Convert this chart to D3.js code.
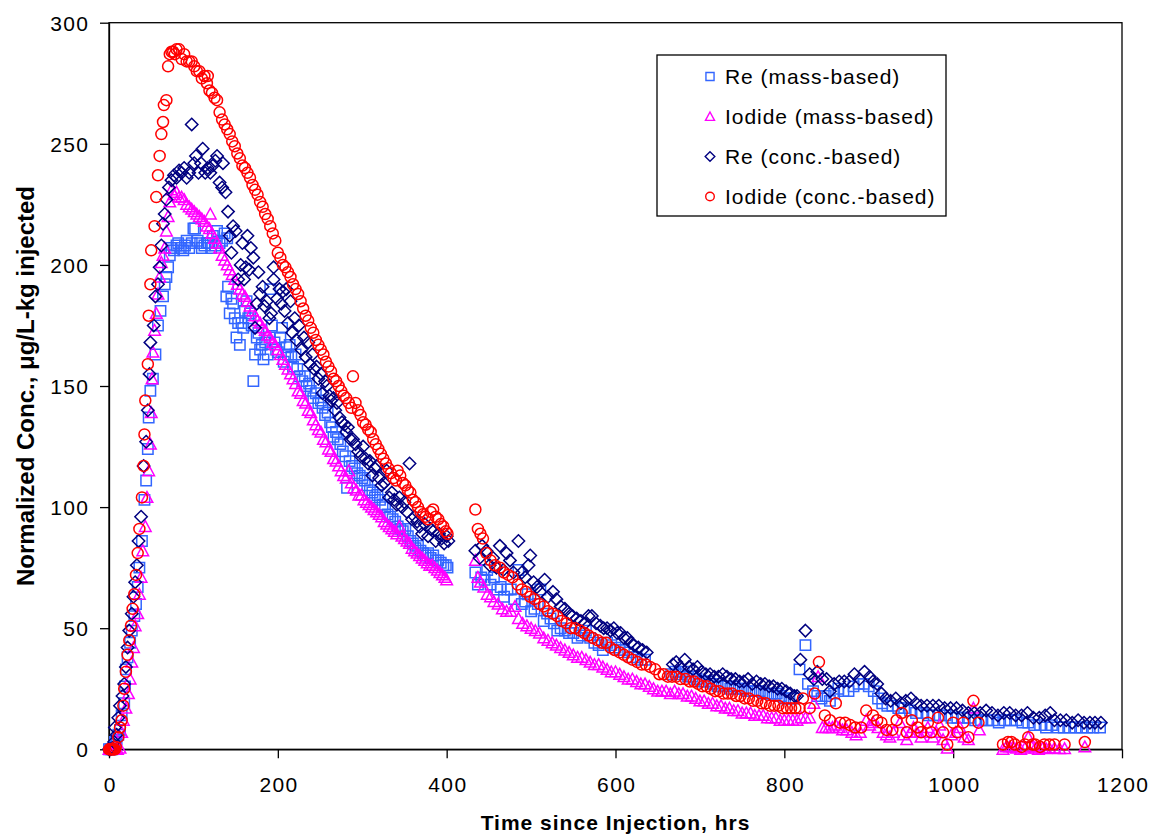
<!DOCTYPE html>
<html>
<head>
<meta charset="utf-8">
<script src="https://cdn.jsdelivr.net/npm/d3@7"></script>
<style>
  html, body { margin: 0; padding: 0; background: #fff; overflow: hidden; }
  svg { display: block; }
  text { font-family: "Liberation Sans", Arial, sans-serif; }
</style>
</head>
<body>
<div id="chart"></div>
<script>
// [hours, normalized conc]
const reMass = [[0,0],[2,0],[4,0],[6,1],[7,3],[9,4],[11,6],[13,8],[15,14],[18,19],[19,26],[20,33],[22,38],[25,44],[27,49],[30,55],[32,60],[34,67],[36,75],[39,86],[42,103],[44,111],[46,124],[47,137],[49,148],[52,153],[55,163],[58,175],[61,181],[64,187],[66,192],[68,195],[70,199],[72,204],[74,207],[77,206],[80,208],[82,209],[85,207],[88,206],[90,208],[92,210],[95,207],[98,209],[100,215],[102,215],[105,210],[108,209],[110,207],[113,208],[116,209],[118,209],[121,207],[123,212],[126,208],[128,214],[131,209],[134,210],[137,213],[140,211],[139,187],[141,191],[143,180],[145,186],[147,184],[149,178],[151,170],[153,176],[155,167],[157,176],[159,174],[161,181],[163,185],[165,178],[167,180],[169,175],[171,152],[173,163],[175,170],[177,172],[179,165],[181,167],[183,161],[185,168],[188,163],[190,170],[191,190],[193,175],[196,168],[198,165],[200,164],[203,170],[205,174],[207,160],[210,166],[212,163],[214,167],[216,162],[218,158],[221,163],[223,157],[226,154],[229,152],[232,154],[234,150],[237,151],[239,148],[242,145],[245,147],[248,143],[251,144],[253,141],[256,138],[259,139],[262,135],[264,133],[266,129],[269,131],[271,128],[274,126],[277,123],[280,121],[282,108],[285,119],[288,117],[291,116],[294,114],[297,113],[300,112],[303,111],[306,109],[309,107],[312,106],[315,104],[318,105],[321,103],[324,101],[327,100],[330,97],[333,96],[336,95],[339,94],[342,92],[345,91],[348,90],[351,91],[354,88],[357,86],[360,85],[363,83],[366,84],[369,82],[372,81],[375,80],[378,81],[381,79],[384,80],[387,78],[390,78],[393,77],[396,76],[399,76],[401,75],
  [434,73],[437,68],[441,71],[445,70],[448,74],[452,68],[456,71],[460,66],[464,67],[468,63],[472,66],[476,66],[480,62],[485,74],[489,60],[493,61],[496,64],[500,57],[504,58],[508,60],[511,66],[515,53],[519,56],[523,54],[527,52],[531,49],[535,50],[540,49],[545,48],[550,48],[555,46],[560,47],[565,49],[570,46],[575,44],[580,43],[585,41],[590,44],[595,43],[600,42],[605,41],[610,41],[615,40],[620,38],[625,38],[630,37],[635,37],
  [666,31],[671,32],[676,31],[681,32],[686,30],[691,30],[696,29],[701,28],[706,28],[711,28],[716,27],[721,26],[726,26],[731,26],[736,25],[741,26],[746,25],[751,25],[756,24],[761,24],[766,24],[771,24],[776,23],[781,23],[786,23],[791,23],[796,22],[801,21],[806,21],[811,21],[818,33],[825,43],[828,27],[834,24],[839,22],[844,21],[849,22],[854,20],[859,23],[864,25],[870,24],[876,24],[882,26],[888,27],[894,27],[900,26],[906,24],[911,21],[916,19],[922,18],[928,18],[935,17],[942,17],[949,16],[956,15],[963,15],[970,14],[977,14],[984,14],[991,14],[998,13],[1005,13],[1012,13],[1019,13],[1026,12],[1033,12],[1040,12],[1047,12],[1054,11],[1061,12],[1068,12],[1075,12],[1082,11],[1089,11],[1096,10],[1103,10],[1110,9],[1117,10],[1124,9],[1131,9],[1138,9],[1145,9],[1152,9],[1159,9],[1166,9],[1174,9]];

const iodideMass = [[0,0],[2,0],[4,0],[6,0],[8,0],[10,0],[13,0.5],[15,7],[17,12],[20,17],[23,23],[25,29],[27,36],[29,42],[31,51],[34,56],[36,64],[38,71],[40,82],[43,92],[45,104],[47,115],[49,126],[50,139],[51,153],[52,164],[54,173],[56,180],[58,188],[60,195],[62,201],[64,204],[66,207],[68,214],[70,220],[72,226],
  [74,231],[77,229],[80,230],[83,228],[86,228],[89,227],[92,225],[95,224],[98,223],[101,222],[104,221],[107,220],[110,219],[113,218],[116,216],[119,215],[120,221],[122,213],[125,211],[128,209],[131,207],[134,204],[137,202],[140,200],[143,198],[146,196],[149,194],[152,192],[155,190],[158,188],[161,187],[164,185],[167,183],[170,181],[173,179],[176,177],[179,176],[182,174],[185,173],[188,171],[191,170],[194,168],[197,167],[200,165],[203,163],[206,161],[209,159],[212,157],[215,155],[218,153],[221,151],[224,148],[227,147],[230,144],[233,143],[236,140],[239,139],[242,136],[245,134],[248,132],[251,131],[254,128],[257,127],[260,124],[263,123],[266,120],[269,119],[272,117],[275,115],[278,113],[281,112],[284,115],[287,110],[290,108],[293,107],[296,105],[299,105],[302,103],[305,102],[308,101],[311,100],[314,99],[317,98],[320,97],[323,96],[326,94],[329,93],[332,92],[335,91],[338,90],[341,89],[344,92],[347,88],[350,87],[353,86],[356,85],[359,83],[362,82],[365,81],[368,80],[371,79],[374,78],[377,77],[380,76],[383,76],[386,75],[389,74],[392,73],[395,72],[398,71],[400,70],
  [434,78],[437,71],[440,69],[444,67],[448,64],[452,63],[456,61],[461,60],[466,58],[471,57],[476,57],[481,59],[485,54],[490,52],[495,51],[500,50],[505,49],[510,48],[515,46],[520,45],[525,44],[530,43],[535,42],[540,41],[545,40],[550,39],[555,38],[560,38],[565,37],[570,36],[575,35],[580,35],[585,34],[590,33],[595,32],[600,32],[605,31],[610,30],[615,29],[620,29],[625,28],[630,27],[635,27],[640,26],[645,25],[650,24],[655,24],[660,24],[665,23],[670,24],[675,23],[680,23],[685,22],[690,22],[695,21],[700,20],[705,20],[710,19],[715,19],[720,18],[725,18],[730,17],[735,17],[740,16],[745,16],[750,15],[755,15],[760,15],[765,14],[770,14],[775,14],[780,13],[785,13],[790,13],[795,12],[800,12],[805,12],[810,12],[815,12],[820,13],[825,13],[830,13],[835,19],[840,30],
  [845,9],[849,9],[853,9],[857,9],[861,10],[865,9],[869,8],[874,8],[880,7],[885,6],[890,7],[897,12],[901,10],[905,11],[911,9],[917,7],[921,6],[925,5],[929,7],[937,11],[941,6],[945,4],[949,7],[953,9],[957,7],[962,5],[966,7],[970,9],[976,5],[980,7],[984,10],[988,4],[993,0.5],[998,6],[1003,7],[1008,9],[1013,5],[1018,4],[1024,17],[1031,8],
  [1059,0],[1063,1],[1067,1],[1071,1],[1075,0.5],[1080,0],[1085,0.5],[1089,5],[1093,1],[1097,0.5],[1101,0],[1106,0.5],[1110,0.3],[1114,0.5],[1120,0.5],[1126,0.3],[1132,0.3],[1156,1]];

const reConc = [[0,0],[2,0],[4,0.5],[6,3],[7,9],[9,6],[11,13],[13,18],[16,22],[18,27],[20,34],[22,42],[24,49],[27,56],[29,63],[31,69],[33,76],[35,86],[38,96],[41,117],[44,127],[46,140],[48,155],[49,168],[53,175],[55,187],[58,192],[60,199],[62,208],[64,217],[66,221],[68,227],[71,232],[74,235],[77,237],[80,236],[83,239],[86,238],[89,240],[92,236],[95,238],[98,258],[101,242],[103,245],[106,238],[109,242],[111,248],[114,238],[117,240],[120,238],[123,241],[126,243],[128,245],[131,234],[134,232],[135,242],[138,230],[141,222],[143,212],[145,205],[147,216],[150,214],[153,194],[156,200],[158,209],[160,194],[162,199],[164,212],[166,198],[168,207],[171,203],[173,174],[175,184],[177,197],[179,188],[182,191],[184,183],[187,185],[190,178],[192,180],[195,199],[195,194],[199,186],[202,190],[204,184],[206,189],[208,181],[210,190],[212,176],[215,185],[217,172],[220,178],[222,169],[225,175],[228,165],[231,170],[233,162],[236,168],[238,159],[241,163],[243,157],[246,158],[248,153],[251,155],[253,147],[256,152],[258,150],[261,146],[263,144],[266,145],[268,140],[270,143],[273,137],[276,135],[279,134],[281,131],[283,133],[286,128],[289,128],[292,126],[295,123],[298,121],[301,125],[304,120],[307,118],[309,119],[312,113],[315,116],[317,117],[320,112],[323,109],[326,110],[329,115],[332,104],[335,106],[338,103],[341,101],[344,104],[347,100],[350,102],[353,98],[356,118],[359,95],[362,96],[365,94],[368,92],[371,89],[374,93],[378,88],[381,91],[384,90],[387,86],[391,89],[394,87],[397,85],[400,88],[402,86],
  [434,82],[439,79],[442,84],[447,82],[451,76],[455,79],[459,75],[463,84],[467,74],[471,81],[475,78],[479,73],[485,86],[489,73],[493,71],[497,76],[499,80],[503,69],[507,67],[511,65],[516,70],[520,63],[526,65],[530,62],[535,59],[540,58],[545,56],[549,55],[554,54],[559,53],[564,52],[568,55],[572,55],[577,52],[582,51],[586,50],[590,50],[594,49],[598,50],[602,48],[606,48],[610,46],[614,46],[618,44],[622,43],[627,42],[632,41],[637,40],
  [668,35],[672,36],[677,34],[682,37],[687,34],[692,33],[697,34],[702,32],[707,31],[712,31],[717,30],[722,30],[727,31],[732,30],[737,29],[742,29],[747,28],[752,28],[757,29],[762,27],[767,28],[772,27],[777,27],[782,26],[787,26],[792,25],[797,25],[802,24],[807,23],[812,22],[815,22],[819,37],[825,49],[830,31],[835,29],[839,32],[845,29],[850,29],[854,24],[859,27],[865,28],[871,28],[877,28],[883,31],[889,29],[895,32],[901,30],[905,28],[910,27],[915,23],[920,21],[926,20],[932,21],[938,19],[944,20],[950,21],[956,19],[962,18],[969,18],[976,18],[983,18],[990,17],[997,17],[1004,17],[1011,16],[1018,15],[1025,15],[1032,15],[1039,16],[1046,15],[1053,14],[1060,15],[1067,15],[1074,14],[1081,14],[1088,15],[1095,13],[1102,13],[1109,14],[1115,15],[1120,12],[1127,12],[1134,12],[1141,11],[1148,12],[1155,11],[1162,11],[1168,11],[1175,11]];

const iodideConc = [[0,0],[1,0],[2,0],[3,0],[4,0],[5,0],[6,0],[7,0],[8,1],[11,5],[13,9],[15,12],[17,18],[18,25],[20,32],[22,39],[24,45],[26,51],[28,58],[30,64],[32,72],[34,81],[36,91],[39,104],[41,117],[42,130],[43,144],[46,159],[47,179],[49,192],[50,206],[54,216],[56,228],[58,237],[60,245],[62,254],[64,259],[65,266],[68,268],[70,282],[72,287],
  [74,288],[76,288],[78,287],[80,289],[83,289],[86,285],[89,287],[92,284],[95,284],[98,284],[101,282],[104,280],[107,280],[110,277],[113,278],[116,275],[117,278],[119,272],[122,271],[125,269],[128,268],[131,263],[134,260],[137,258],[140,256],[143,254],[146,251],[149,249],[152,246],[155,244],[158,241],[161,240],[164,238],[167,236],[170,233],[173,231],[176,229],[179,226],[182,224],[185,221],[188,219],[191,216],[194,213],[197,210],[200,205],[203,203],[206,200],[209,199],[212,197],[215,195],[218,192],[221,190],[224,188],[227,185],[230,182],[233,179],[236,177],[239,174],[242,172],[245,169],[248,167],[251,165],[254,163],[257,160],[260,158],[263,156],[266,153],[269,152],[272,150],[275,148],[278,146],[281,145],[284,143],[287,141],[289,154],[292,143],[295,140],[298,138],[301,135],[304,134],[307,132],[310,131],[313,128],[316,126],[319,124],[322,122],[325,120],[328,118],[331,116],[334,114],[337,112],[340,111],[342,115],[345,113],[348,110],[351,109],[354,107],[357,106],[360,103],[363,102],[366,100],[369,98],[372,97],[375,96],[378,95],[381,98],[384,99],[387,96],[390,95],[393,93],[396,92],[399,90],[401,89],
  [434,99],[437,91],[440,89],[443,87],[447,81],[452,78],[457,76],[463,75],[468,73],[473,72],[478,71],[484,68],[489,66],[494,65],[499,63],[504,62],[510,60],[515,59],[520,57],[526,56],[531,55],[536,53],[542,52],[547,50],[552,50],[558,49],[563,48],[568,47],[573,46],[579,45],[584,44],[589,44],[594,42],[599,41],[605,40],[610,39],[615,38],[620,37],[626,36],[631,35],[636,35],[641,34],[647,33],[652,31],[657,31],[662,30],[667,30],[672,30],[677,29],[683,29],[688,28],[693,28],[698,27],[703,26],[708,26],[713,25],[718,24],[723,24],[728,23],[733,23],[738,23],[743,22],[748,22],[753,21],[758,21],[763,20],[768,20],[773,19],[778,19],[783,18],[788,18],[793,18],[798,17],[803,17],[808,17],[813,17],[818,17],
  [822,21],[830,17],[836,23],[841,36],[848,14],[854,12],[861,19],[866,11],[872,11],[878,10],[884,9],[891,9],[897,16],[905,14],[910,12],[915,11],[921,8],[928,8],[933,12],[939,15],[945,7],[951,12],[958,9],[962,7],[970,11],[974,7],[982,13],[988,7],[993,2],[1000,11],[1005,7],[1012,11],[1018,5],[1024,20],[1030,11],
  [1059,2],[1065,3],[1069,3],[1073,2],[1081,1],[1085,2],[1089,5],[1094,2],[1097,2],[1103,1],[1108,2],[1114,2],[1120,2],[1132,2],[1156,3]];

const seriesNames = ["Re (mass-based)", "Iodide (mass-based)", "Re (conc.-based)", "Iodide (conc.-based)"];
const xTicks = [0, 200, 400, 600, 800, 1000, 1200];
const yTicks = [0, 50, 100, 150, 200, 250, 300];
const xTitle = "Time since Injection, hrs";
const yTitle = "Normalized Conc., \u03bcg/L-kg injected";

const width = 1153;
const height = 836;
const margin = { top: 22.7, right: 31, bottom: 86.7, left: 109 };
const innerWidth = width - margin.left - margin.right;
const innerHeight = height - margin.top - margin.bottom;

const xScale = d3.scaleLinear().domain([0, 1200]).range([0, innerWidth]);
const yScale = d3.scaleLinear().domain([0, 300]).range([innerHeight, 0]);

// marker shapes
const shapes = {
  square: h => `M${-h},${-h}h${2*h}v${2*h}h${-2*h}Z`,
  triangle: h => `M0,${-h}L${h},${h*0.85}L${-h},${h*0.85}Z`,
  diamond: h => `M0,${-h}L${h},0L0,${h}L${-h},0Z`,
  circle: h => `M${-h},0a${h},${h} 0 1,0 ${2*h},0a${h},${h} 0 1,0 ${-2*h},0Z`
};

const series = [
  { name: seriesNames[0], data: reMass, shape: "square", size: 5.2, color: "#3366ff" },
  { name: seriesNames[1], data: iodideMass, shape: "triangle", size: 5.8, color: "#ff00ff" },
  { name: seriesNames[2], data: reConc, shape: "diamond", size: 6.2, color: "#000080" },
  { name: seriesNames[3], data: iodideConc, shape: "circle", size: 5.5, color: "#ff0000" }
];

const svg = d3.select("#chart")
  .append("svg")
  .attr("width", width)
  .attr("height", height)
  .style("background", "#fff");

const g = svg.append("g")
  .attr("transform", `translate(${margin.left}, ${margin.top})`);

// frame
g.append("rect")
  .attr("width", innerWidth)
  .attr("height", innerHeight)
  .attr("fill", "none")
  .attr("stroke", "#000")
  .attr("stroke-width", 1.3);

const xAxis = d3.axisBottom(xScale).tickValues(xTicks).tickSize(9).tickSizeOuter(0).tickFormat(d3.format("d"));
g.append("g")
  .attr("transform", `translate(0, ${innerHeight})`)
  .call(xAxis)
  .call(a => a.select(".domain").attr("stroke-width", 1.3))
  .call(a => a.selectAll(".tick line").attr("stroke-width", 1.3))
  .call(a => a.selectAll(".tick text")
    .attr("y", 42.5).attr("dy", null).attr("dx", 0.7)
    .attr("font-size", 21).attr("letter-spacing", 1.4).attr("fill", "#000"));

const yAxis = d3.axisLeft(yScale).tickValues(yTicks).tickSize(9).tickSizeOuter(0);
g.append("g")
  .call(yAxis)
  .call(a => a.select(".domain").attr("stroke-width", 1.3))
  .call(a => a.selectAll(".tick text")
    .attr("x", -19.6).attr("dy", "0.36em")
    .attr("font-size", 21).attr("letter-spacing", 1.4).attr("fill", "#000"))
  .call(a => a.selectAll(".tick line").attr("stroke-width", 1.3));

// points
series.forEach(s => {
  g.append("g")
    .selectAll("path")
    .data(s.data)
    .enter()
    .append("path")
    .attr("d", shapes[s.shape](s.size))
    .attr("transform", d => `translate(${xScale(d[0])}, ${yScale(d[1])})`)
    .attr("fill", "none")
    .attr("stroke", s.color)
    .attr("stroke-width", 1.5);
});

// axis titles
svg.append("text")
  .attr("x", margin.left + innerWidth / 2)
  .attr("y", 830)
  .attr("text-anchor", "middle")
  .attr("font-size", 21)
  .attr("letter-spacing", 1)
  .attr("font-weight", "bold")
  .text(xTitle);

svg.append("text")
  .attr("transform", `translate(34, ${margin.top + innerHeight / 2}) rotate(-90)`)
  .attr("text-anchor", "middle")
  .attr("font-size", 24)
  .attr("font-weight", "bold")
  .text(yTitle);

// legend
const legend = svg.append("g").attr("transform", "translate(657, 55)");
legend.append("rect")
  .attr("width", 289)
  .attr("height", 161)
  .attr("fill", "#fff")
  .attr("stroke", "#000")
  .attr("stroke-width", 1.3);

const rows = legend.selectAll("g.row")
  .data(series)
  .enter()
  .append("g")
  .attr("class", "row")
  .attr("transform", (d, i) => `translate(53, ${21.5 + i * 40})`);

rows.append("path")
  .attr("d", d => shapes[d.shape](d.size * 0.78))
  .attr("fill", "none")
  .attr("stroke", d => d.color)
  .attr("stroke-width", 1.4);

rows.append("text")
  .attr("x", 15)
  .attr("y", 7.5)
  .attr("font-size", 21)
  .attr("letter-spacing", 0.95)
  .attr("fill", "#000")
  .text(d => d.name);
</script>
</body>
</html>
